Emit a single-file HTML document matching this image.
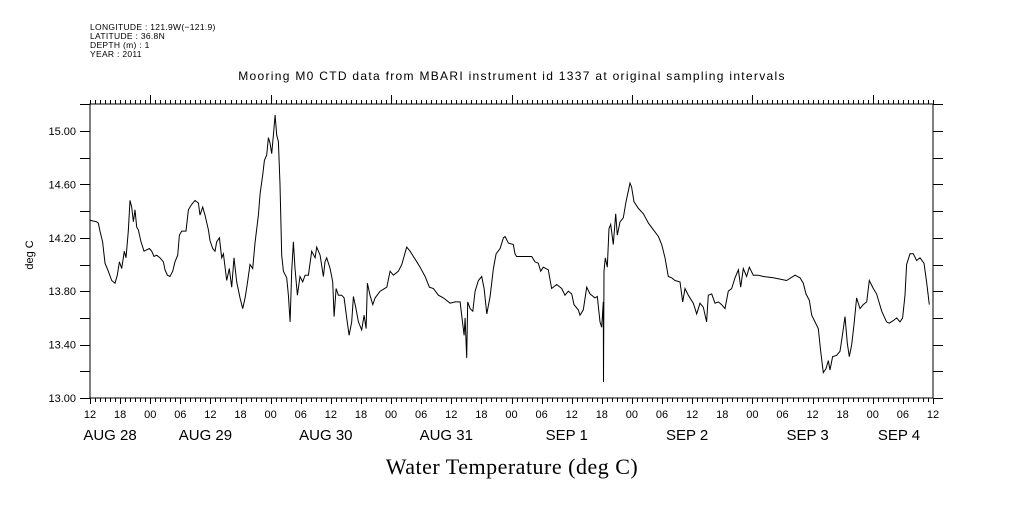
<!DOCTYPE html>
<html><head><meta charset="utf-8"><style>
body{margin:0;background:#fff;}
svg text{font-family:"Liberation Sans",sans-serif;fill:#000;}
</style></head><body>
<svg id="chart" width="1009" height="504" xmlns="http://www.w3.org/2000/svg">
<rect width="1009" height="504" fill="#fff"/>
<g font-size="8.5" letter-spacing="0.3">
<text x="90" y="30">LONGITUDE : 121.9W(−121.9)</text>
<text x="90" y="39">LATITUDE : 36.8N</text>
<text x="90" y="48">DEPTH (m) : 1</text>
<text x="90" y="57">YEAR : 2011</text>
</g>
<text x="512" y="80" font-size="12" text-anchor="middle" letter-spacing="1.3">Mooring M0 CTD data from MBARI instrument id 1337 at original sampling intervals</text>
<text transform="translate(33,255) rotate(-90)" font-size="11" text-anchor="middle">deg C</text>
<text x="512" y="474" font-size="22" text-anchor="middle" style="font-family:'Liberation Serif',serif" letter-spacing="0.5">Water Temperature (deg C)</text>
<rect x="90" y="104" width="843" height="294" fill="none" stroke="#000" stroke-width="1"/>
<g id="axes"></g>
<path id="line" fill="none" stroke="#000" stroke-width="1"/>
</svg>
<script>
const hours=[0.07,1.33,1.66,1.99,2.52,2.99,3.65,4.32,4.98,5.45,5.85,6.31,6.84,7.18,7.64,7.97,8.31,8.64,8.97,9.30,9.63,10.17,10.76,11.30,11.83,12.29,12.76,13.29,13.95,14.62,14.95,15.42,15.95,16.48,16.94,17.48,17.81,18.27,19.14,19.60,20.27,20.93,21.60,21.93,22.46,22.92,23.59,23.92,24.45,24.92,25.25,25.78,26.25,26.58,27.24,27.77,28.24,28.70,29.24,29.90,30.43,30.90,31.36,31.89,32.43,32.89,33.56,33.89,34.42,34.75,35.22,35.55,35.88,36.21,36.55,36.88,37.21,37.54,37.87,38.21,38.54,39.20,39.54,39.87,40.20,40.53,40.86,41.33,41.86,42.39,42.86,43.52,44.19,44.85,45.18,45.85,46.51,46.84,47.18,47.84,48.37,48.64,49.04,49.50,50.17,50.63,51.16,51.63,52.16,52.49,53.02,53.49,54.15,54.62,55.02,55.28,55.81,56.35,56.81,57.81,59.14,59.80,60.47,61.46,62.13,63.12,63.79,64.45,65.12,65.78,66.78,67.64,68.44,69.44,70.43,71.76,72.76,73.75,74.29,74.55,74.75,75.08,75.28,75.75,76.28,76.74,77.41,78.07,78.54,79.07,79.73,80.40,80.93,81.73,82.39,82.73,83.39,84.36,84.69,85.02,86.69,88.02,88.69,89.35,89.81,90.34,91.34,92.00,93.00,94.00,94.66,95.32,95.99,96.45,97.32,97.65,98.31,98.98,99.64,100.64,101.10,101.63,101.97,102.30,102.33,102.43,102.70,103.10,103.43,103.76,104.29,104.76,105.09,105.62,106.29,106.82,107.28,107.61,107.94,108.41,109.28,110.28,111.28,112.27,113.27,113.94,114.60,115.25,115.93,116.59,117.59,118.12,118.57,119.24,120.23,120.90,121.56,122.23,122.89,123.22,123.89,124.55,125.22,125.88,126.55,127.21,127.88,128.54,129.21,129.67,130.20,130.86,131.39,132.19,133.19,134.18,136.18,138.83,140.49,141.49,142.16,142.69,143.36,143.82,144.49,145.15,145.62,146.14,146.67,147.14,147.47,148.00,148.80,149.46,149.99,150.46,150.92,151.32,151.79,152.25,152.78,153.45,154.11,154.78,155.31,156.11,156.77,157.77,158.76,159.29,160.09,160.76,161.42,161.95,162.41,162.74,163.41,164.07,164.74,165.40,166.20,166.73,167.26];
const temps=[14.33,14.32,14.31,14.25,14.17,14.01,13.95,13.88,13.86,13.92,14.02,13.97,14.10,14.05,14.25,14.48,14.43,14.32,14.41,14.28,14.26,14.17,14.10,14.11,14.12,14.10,14.06,14.07,14.05,14.02,13.96,13.92,13.91,13.95,14.02,14.07,14.22,14.25,14.25,14.41,14.45,14.48,14.46,14.37,14.43,14.37,14.26,14.18,14.12,14.10,14.17,14.20,14.05,14.08,13.88,13.97,13.83,14.05,13.87,13.75,13.67,13.75,13.86,14.00,13.97,14.16,14.37,14.53,14.67,14.78,14.82,14.95,14.91,14.83,14.97,15.12,14.97,14.92,14.60,14.07,13.95,13.90,13.77,13.57,13.95,14.17,13.97,13.77,13.91,13.87,13.92,13.92,14.10,14.05,14.13,14.07,13.91,14.02,14.05,13.97,13.87,13.61,13.82,13.77,13.77,13.75,13.60,13.47,13.57,13.76,13.67,13.57,13.51,13.62,13.52,13.86,13.77,13.70,13.75,13.80,13.83,13.95,13.92,13.95,14.00,14.13,14.10,14.06,14.02,13.98,13.91,13.83,13.82,13.77,13.75,13.71,13.72,13.72,13.55,13.47,13.60,13.30,13.72,13.67,13.65,13.80,13.88,13.91,13.82,13.63,13.76,13.97,14.08,14.12,14.20,14.21,14.16,14.15,14.08,14.06,14.06,14.06,14.02,14.01,13.95,13.98,13.96,13.82,13.85,13.82,13.77,13.80,13.78,13.70,13.66,13.62,13.66,13.83,13.78,13.75,13.76,13.57,13.53,13.72,13.12,13.95,14.05,13.98,14.27,14.30,14.15,14.38,14.22,14.32,14.35,14.47,14.55,14.61,14.58,14.47,14.42,14.38,14.31,14.26,14.21,14.15,14.05,13.91,13.90,13.88,13.87,13.72,13.82,13.77,13.71,13.63,13.71,13.68,13.57,13.77,13.78,13.71,13.72,13.70,13.67,13.80,13.82,13.90,13.96,13.83,13.97,13.91,13.98,13.92,13.92,13.91,13.90,13.88,13.92,13.90,13.86,13.78,13.73,13.62,13.57,13.52,13.35,13.19,13.22,13.28,13.21,13.31,13.32,13.35,13.48,13.61,13.41,13.31,13.40,13.55,13.75,13.67,13.70,13.72,13.88,13.82,13.78,13.65,13.57,13.56,13.58,13.60,13.57,13.60,13.77,14.00,14.08,14.08,14.03,14.05,14.01,13.87,13.70];
const yTicks=[13.00,13.40,13.80,14.20,14.60,15.00];
const hourLabels=["12","18","00","06"];
const dateLabels=["AUG 28","AUG 29","AUG 30","AUG 31","SEP  1","SEP  2","SEP  3","SEP  4"];
const X0=90,X1=933,Y0=398,Y1=104,H=168,TMIN=13;
const xs=h=>X0+h*(X1-X0)/H;
const ys=t=>Y0-(t-TMIN)*133.5;
const NS="http://www.w3.org/2000/svg";
const ax=document.getElementById('axes');
function mk(tag,attrs){const e=document.createElementNS(NS,tag);for(const k in attrs)e.setAttribute(k,attrs[k]);ax.appendChild(e);return e;}
let d="";
for(let h=0;h<=H;h++){const x=Math.round(xs(h))+0.5;const maj=((h+12)%24===0);const six=(h%6===0);
 d+=`M${x},${Y0}v${six?6:4}M${x},${Y1}v${maj?-9:-4}`;}
for(let v=13;v<=15.2;v+=0.2){const y=Math.round(ys(v))+0.5;d+=`M${X0},${y}h-10M${X1},${y}h10`;}
const tk=mk('path',{d:d,stroke:'#000','stroke-width':1,fill:'none'});


yTicks.forEach(v=>{const t=mk('text',{x:76,y:ys(v)+4,'font-size':11,'text-anchor':'end'});t.textContent=v.toFixed(2);
 
 });
for(let h=0;h<=H;h+=6){const t=mk('text',{x:xs(h),y:418,'font-size':11,'text-anchor':'middle'});t.textContent=hourLabels[(h/6)%4];
 
 }
dateLabels.forEach((s,i)=>{let cx=xs(i*24)-5;if(i===0)cx=110;if(i===dateLabels.length-1)cx=899;const t=mk('text',{x:cx,y:440,'font-size':15,'text-anchor':'middle','xml:space':'preserve'});t.textContent=s;
 
 });
let p="";hours.forEach((h,i)=>{p+=(i?"L":"M")+xs(h).toFixed(1)+","+ys(temps[i]).toFixed(1);});
document.getElementById('line').setAttribute('d',p);
</script>
</body></html>
